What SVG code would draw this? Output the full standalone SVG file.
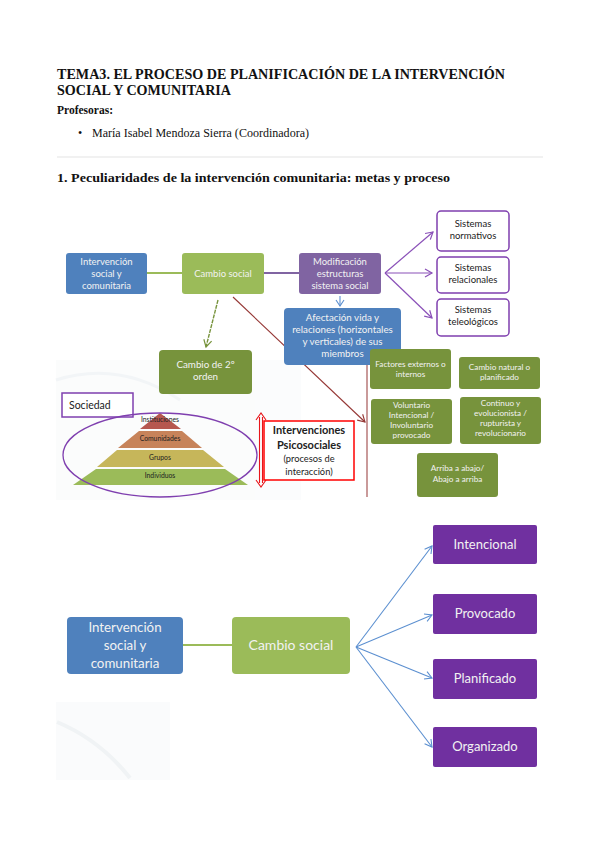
<svg xmlns="http://www.w3.org/2000/svg" width="599" height="848" viewBox="0 0 599 848">
<style>
.hd{font-family:"Liberation Serif",serif;fill:#111}
.bx{font-family:Lato,"Liberation Sans",sans-serif;fill:#f2f2f2;text-anchor:middle}
.dk{font-family:Lato,"Liberation Sans",sans-serif;fill:#222;text-anchor:middle}
.blue{fill:#4F81BD}
.green{fill:#9BBB59}
.olive{fill:#77933C}
.purp{fill:#8064A2}
.vio{fill:#7030A0}
.sys{fill:#fff;stroke:#7F3FAF;stroke-width:1.5}
</style>
<defs>
<marker id="ap" markerWidth="10" markerHeight="10" refX="8" refY="5" orient="auto" markerUnits="userSpaceOnUse"><path d="M1,1 L8,5 L1,9" fill="none" stroke="#8A50B8" stroke-width="1.2"/></marker>
<marker id="ab" markerWidth="10" markerHeight="10" refX="8" refY="5" orient="auto" markerUnits="userSpaceOnUse"><path d="M1,1 L8,5 L1,9" fill="none" stroke="#5B8FD0" stroke-width="1.1"/></marker>
<marker id="ag" markerWidth="10" markerHeight="10" refX="8" refY="5" orient="auto" markerUnits="userSpaceOnUse"><path d="M1,1 L8,5 L1,9" fill="none" stroke="#77933C" stroke-width="1.2"/></marker>
<marker id="ar" markerWidth="10" markerHeight="10" refX="8" refY="5" orient="auto" markerUnits="userSpaceOnUse"><path d="M1,1 L8,5 L1,9" fill="none" stroke="#953735" stroke-width="1.1"/></marker>
<marker id="al" markerWidth="10" markerHeight="10" refX="8" refY="5" orient="auto" markerUnits="userSpaceOnUse"><path d="M2,1 L8,5 L2,9" fill="none" stroke="#5B8FD0" stroke-width="1.1"/></marker>
</defs>
<rect width="599" height="848" fill="#fff"/>

<!-- header -->
<g id="header">
<text class="hd" x="57" y="79" font-size="14.5" font-weight="bold" textLength="448" lengthAdjust="spacingAndGlyphs">TEMA3. EL PROCESO DE PLANIFICACIÓN DE LA INTERVENCIÓN</text>
<text class="hd" x="57" y="95" font-size="14.5" font-weight="bold" textLength="174" lengthAdjust="spacingAndGlyphs">SOCIAL Y COMUNITARIA</text>
<text class="hd" x="57" y="114" font-size="12.5" font-weight="bold" textLength="56" lengthAdjust="spacingAndGlyphs">Profesoras:</text>
<text class="hd" x="78" y="137" font-size="12">•</text>
<text class="hd" x="92" y="137" font-size="12" textLength="217" lengthAdjust="spacingAndGlyphs">María Isabel Mendoza Sierra (Coordinadora)</text>
<line x1="57" y1="157" x2="543" y2="157" stroke="#e3e3e3" stroke-width="1"/>
<text class="hd" x="57" y="182" font-size="12.5" font-weight="bold" textLength="393" lengthAdjust="spacingAndGlyphs">1. Peculiaridades de la intervención comunitaria: metas y proceso</text>
</g>

<!-- faint watermark areas -->
<g id="watermark" opacity="0.45">
<rect x="56" y="360" width="245" height="140" fill="#f7f9fa"/>
<path d="M56,380 Q120,360 180,400" fill="none" stroke="#e4eaee" stroke-width="3"/>
<rect x="56" y="702" width="114" height="78" fill="#f6f8f9"/>
<path d="M57,722 Q100,740 130,778" fill="none" stroke="#dfe6ea" stroke-width="4"/>
</g>

<!-- connectors -->
<g id="connectors" fill="none">
<line x1="147" y1="273" x2="182" y2="273" stroke="#9BBB59" stroke-width="2"/>
<line x1="264" y1="273" x2="299" y2="273" stroke="#8064A2" stroke-width="2"/>
<line x1="385" y1="273" x2="433" y2="232" stroke="#8A50B8" stroke-width="1.2" marker-end="url(#ap)"/>
<line x1="385" y1="273" x2="432" y2="273" stroke="#8A50B8" stroke-width="1.2" marker-end="url(#ap)"/>
<line x1="385" y1="273" x2="432" y2="318" stroke="#8A50B8" stroke-width="1.2" marker-end="url(#ap)"/>
<line x1="340" y1="296" x2="340" y2="306" stroke="#5B8FD0" stroke-width="1.1" marker-end="url(#al)"/>
<line x1="218" y1="300" x2="206" y2="347" stroke="#77933C" stroke-width="1.4" stroke-dasharray="4,1" marker-end="url(#ag)"/>
<line x1="233" y1="297" x2="365" y2="422" stroke="#953735" stroke-width="1.1" marker-end="url(#ar)"/>
<line x1="367" y1="351" x2="367" y2="497" stroke="#A65757" stroke-width="1.2"/>
<!-- double arrow -->
<g stroke="#E8161B" stroke-width="1.1">
<line x1="259.5" y1="417" x2="259.5" y2="483"/>
<line x1="262.5" y1="417" x2="262.5" y2="483"/>
<path d="M256,420 L261,413 L266,420"/>
<path d="M256,480 L261,487 L266,480"/>
</g>
<!-- diagram 2 -->
<line x1="183" y1="645" x2="232" y2="645" stroke="#9BBB59" stroke-width="2"/>
<line x1="356" y1="647" x2="432" y2="546" stroke="#5B8FD0" stroke-width="1.1" marker-end="url(#ab)"/>
<line x1="356" y1="647" x2="432" y2="615" stroke="#5B8FD0" stroke-width="1.1" marker-end="url(#ab)"/>
<line x1="356" y1="647" x2="432" y2="678" stroke="#5B8FD0" stroke-width="1.1" marker-end="url(#ab)"/>
<line x1="356" y1="647" x2="432" y2="747" stroke="#5B8FD0" stroke-width="1.1" marker-end="url(#ab)"/>
</g>

<!-- diagram 1 nodes -->
<g id="n-intervencion1">
<rect class="blue" x="66" y="253" width="81" height="41" rx="3"/>
<text class="bx" font-size="9.5"><tspan x="106.5" y="265">Intervención</tspan><tspan x="106.5" y="277">social y</tspan><tspan x="106.5" y="289">comunitaria</tspan></text>
</g>
<g id="n-cambio1">
<rect class="green" x="182" y="253" width="82" height="41" rx="3"/>
<text class="bx" x="223" y="276.5" font-size="9.5">Cambio social</text>
</g>
<g id="n-modificacion">
<rect class="purp" x="299" y="253" width="82" height="41" rx="3"/>
<text class="bx" font-size="9.5"><tspan x="340" y="265">Modificación</tspan><tspan x="340" y="277">estructuras</tspan><tspan x="340" y="289">sistema social</tspan></text>
</g>
<g id="n-normativos">
<rect class="sys" x="437" y="211" width="72" height="40" rx="4"/>
<text class="dk" font-size="9.5"><tspan x="473" y="227">Sistemas</tspan><tspan x="473" y="239">normativos</tspan></text>
</g>
<g id="n-relacionales">
<rect class="sys" x="437" y="257" width="72" height="36" rx="4"/>
<text class="dk" font-size="9.5"><tspan x="473" y="271">Sistemas</tspan><tspan x="473" y="283">relacionales</tspan></text>
</g>
<g id="n-teleologicos">
<rect class="sys" x="437" y="299" width="72" height="37" rx="4"/>
<text class="dk" font-size="9.5"><tspan x="473" y="313">Sistemas</tspan><tspan x="473" y="325">teleológicos</tspan></text>
</g>
<g id="n-afectacion">
<rect class="blue" x="284" y="308" width="117" height="57" rx="4"/>
<text class="bx" font-size="9.8"><tspan x="342.5" y="321">Afectación vida y</tspan><tspan x="342.5" y="333">relaciones (horizontales</tspan><tspan x="342.5" y="345">y verticales) de sus</tspan><tspan x="342.5" y="357">miembros</tspan></text>
</g>
<g id="n-cambio2orden">
<rect class="olive" x="159" y="350" width="93" height="44" rx="4"/>
<text class="bx" font-size="9.8"><tspan x="205.5" y="368">Cambio de 2º</tspan><tspan x="205.5" y="380">orden</tspan></text>
</g>
<g id="n-sociedad">
<rect x="62" y="393" width="71" height="24" fill="#fff" stroke="#7F3FAF" stroke-width="1.5"/>
<text x="69" y="409" font-family="Lato,'Liberation Sans',sans-serif" font-size="10.5" fill="#222">Sociedad</text>
</g>
<g id="n-piramide">
<polygon points="160,413 181,429 140,429" fill="#B6574F"/>
<polygon points="139,431 182,431 202,448 118,448" fill="#C7835A"/>
<polygon points="117,450 203,450 224,467 97,467" fill="#C6B65A"/>
<polygon points="96,469 225,469 248,485 73,485" fill="#9BBB59"/>
<g class="dk" font-size="6.8" fill="#333">
<text x="160" y="422">Instituciones</text>
<text x="160" y="441">Comunidades</text>
<text x="160" y="460">Grupos</text>
<text x="160" y="478">Individuos</text>
</g>
<ellipse cx="160" cy="455" rx="97" ry="42" fill="none" stroke="#7F3FAF" stroke-width="1.3"/>
</g>
<g id="n-psicosociales">
<rect x="264" y="421" width="90" height="59" fill="#fff" stroke="#FF0000" stroke-width="1.5"/>
<text class="dk" font-size="11" font-weight="bold" fill="#111"><tspan x="309" y="434">Intervenciones</tspan><tspan x="309" y="449">Psicosociales</tspan></text>
<text class="dk" font-size="9.3"><tspan x="309" y="462">(procesos de</tspan><tspan x="309" y="475">interacción)</tspan></text>
</g>
<g id="n-factores">
<rect class="olive" x="370" y="349" width="81" height="40" rx="3"/>
<text class="bx" font-size="8.2"><tspan x="410.5" y="367">Factores externos o</tspan><tspan x="410.5" y="377">internos</tspan></text>
</g>
<g id="n-natural">
<rect class="olive" x="459" y="357" width="81" height="32" rx="3"/>
<text class="bx" font-size="8.2"><tspan x="499.5" y="370">Cambio natural o</tspan><tspan x="499.5" y="380">planificado</tspan></text>
</g>
<g id="n-voluntario">
<rect class="olive" x="371" y="399" width="81" height="45" rx="3"/>
<text class="bx" font-size="8.2"><tspan x="411.5" y="408">Voluntario</tspan><tspan x="411.5" y="418">Intencional /</tspan><tspan x="411.5" y="428">Involuntario</tspan><tspan x="411.5" y="438">provocado</tspan></text>
</g>
<g id="n-continuo">
<rect class="olive" x="460" y="397" width="81" height="47" rx="3"/>
<text class="bx" font-size="8.2"><tspan x="500.5" y="406">Continuo y</tspan><tspan x="500.5" y="416">evolucionista /</tspan><tspan x="500.5" y="426">rupturista y</tspan><tspan x="500.5" y="436">revolucionario</tspan></text>
</g>
<g id="n-arriba">
<rect class="olive" x="417" y="453" width="81" height="44" rx="3"/>
<text class="bx" font-size="8.2"><tspan x="457.5" y="471">Arriba a abajo/</tspan><tspan x="457.5" y="482">Abajo a arriba</tspan></text>
</g>

<!-- diagram 2 nodes -->
<g id="n-intervencion2">
<rect class="blue" x="67" y="617" width="116" height="57" rx="4"/>
<text class="bx" font-size="13.3"><tspan x="125" y="632">Intervención</tspan><tspan x="125" y="650">social y</tspan><tspan x="125" y="668">comunitaria</tspan></text>
</g>
<g id="n-cambio2">
<rect class="green" x="232" y="617" width="118" height="57" rx="4"/>
<text class="bx" x="291" y="650" font-size="14">Cambio social</text>
</g>
<g id="n-intencional">
<rect class="vio" x="433" y="525" width="104" height="39" rx="2"/>
<text class="bx" x="485" y="549" font-size="13">Intencional</text>
</g>
<g id="n-provocado">
<rect class="vio" x="433" y="594" width="104" height="40" rx="2"/>
<text class="bx" x="485" y="618" font-size="13">Provocado</text>
</g>
<g id="n-planificado">
<rect class="vio" x="433" y="659" width="104" height="40" rx="2"/>
<text class="bx" x="485" y="683" font-size="13">Planificado</text>
</g>
<g id="n-organizado">
<rect class="vio" x="433" y="727" width="104" height="40" rx="2"/>
<text class="bx" x="485" y="751" font-size="13">Organizado</text>
</g>
</svg>
